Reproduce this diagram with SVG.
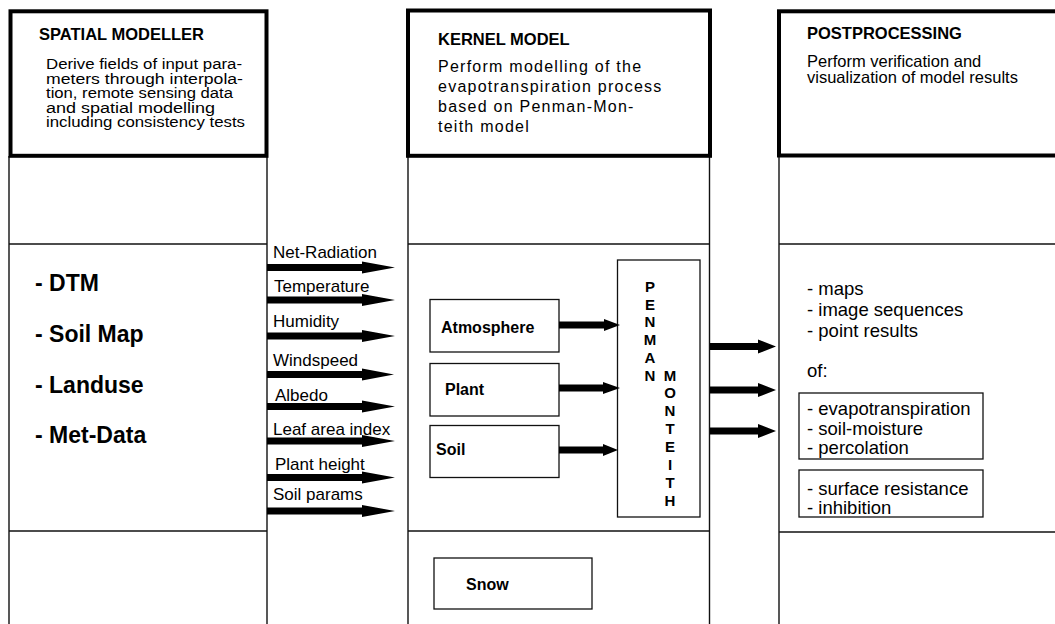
<svg xmlns="http://www.w3.org/2000/svg" width="1055" height="624" viewBox="0 0 1055 624">
<style>
text{font-family:"Liberation Sans",Arial,Helvetica,sans-serif;fill:#000}
.thick{fill:none;stroke:#000;stroke-width:4}
.thin{fill:none;stroke:#111;stroke-width:1.4}
.box{fill:#fff;stroke:#111;stroke-width:1.3}
.title{font-size:16.5px;font-weight:bold}
.desc{font-size:16.5px}
.ldesc{font-size:14px}
.kdesc{font-size:16px;letter-spacing:1.25px}
.lbl{font-size:17px}
.big{font-size:23px;font-weight:bold}
.bl{font-size:16px;font-weight:bold}
.pm{font-size:15px;font-weight:bold;text-anchor:middle}
.res{font-size:18.5px}
.arr{fill:#000;stroke:none}
</style>
<rect width="1055" height="624" fill="#fff"/>

<g id="spatial-modeller">
  <line class="thin" x1="9" y1="156" x2="9" y2="624"/>
  <line class="thin" x1="267" y1="156" x2="267" y2="624"/>
  <line class="thin" x1="9" y1="244" x2="267" y2="244"/>
  <line class="thin" x1="9" y1="531" x2="267" y2="531"/>
  <rect class="thick" x="10.5" y="11.3" width="256" height="144.5" fill="#fff"/>
  <text class="title" x="39" y="39.5">SPATIAL MODELLER</text>
  <text class="ldesc" x="46" y="69" textLength="196" lengthAdjust="spacingAndGlyphs">Derive fields of input para-</text>
  <text class="ldesc" x="46" y="83.5" textLength="197" lengthAdjust="spacingAndGlyphs">meters through interpola-</text>
  <text class="ldesc" x="46" y="98" textLength="187" lengthAdjust="spacingAndGlyphs">tion, remote sensing data</text>
  <text class="ldesc" x="46" y="112.5" textLength="169" lengthAdjust="spacingAndGlyphs">and spatial modelling</text>
  <text class="ldesc" x="46" y="127" textLength="199" lengthAdjust="spacingAndGlyphs">including consistency tests</text>
  <text class="big" x="35" y="291">- DTM</text>
  <text class="big" x="35" y="342">- Soil Map</text>
  <text class="big" x="35" y="393">- Landuse</text>
  <text class="big" x="35" y="443">- Met-Data</text>
</g>

<g id="input-labels">
  <text class="lbl" x="273" y="258">Net-Radiation</text>
  <text class="lbl" x="274" y="292">Temperature</text>
  <text class="lbl" x="273" y="327">Humidity</text>
  <text class="lbl" x="273" y="366">Windspeed</text>
  <text class="lbl" x="275" y="401">Albedo</text>
  <text class="lbl" x="273" y="435">Leaf area index</text>
  <text class="lbl" x="275" y="470">Plant height</text>
  <text class="lbl" x="273" y="500">Soil params</text>
</g>

<g id="kernel-model">
  <line class="thin" x1="408" y1="156" x2="408" y2="624"/>
  <line class="thin" x1="709.5" y1="156" x2="709.5" y2="624"/>
  <line class="thin" x1="408" y1="244" x2="710" y2="244"/>
  <line class="thin" x1="408" y1="531" x2="710" y2="531"/>
  <rect class="thick" x="408" y="10.5" width="302" height="145.3" fill="#fff"/>
  <text class="title" x="438" y="45">KERNEL MODEL</text>
  <text class="kdesc" x="438" y="72">Perform modelling of the</text>
  <text class="kdesc" x="438" y="92">evapotranspiration process</text>
  <text class="kdesc" x="438" y="112">based on Penman-Mon-</text>
  <text class="kdesc" x="438" y="132">teith model</text>
</g>

<g id="atmosphere">
  <rect class="box" x="430" y="299.5" width="129" height="52.5"/>
  <text class="bl" x="441" y="333">Atmosphere</text>
</g>
<g id="plant">
  <rect class="box" x="430" y="363.5" width="129" height="52.5"/>
  <text class="bl" x="445" y="395">Plant</text>
</g>
<g id="soil">
  <rect class="box" x="430" y="425.5" width="129" height="52"/>
  <text class="bl" x="436" y="455">Soil</text>
</g>

<g id="penman-monteith">
  <rect class="box" x="617.5" y="260" width="82.5" height="257"/>
  <text class="pm" x="650" y="292">P</text>
  <text class="pm" x="650" y="309.7">E</text>
  <text class="pm" x="650" y="327.4">N</text>
  <text class="pm" x="650" y="345.1">M</text>
  <text class="pm" x="650" y="362.8">A</text>
  <text class="pm" x="650" y="380.5">N</text>
  <text class="pm" x="670" y="380.5">M</text>
  <text class="pm" x="670" y="398.3">O</text>
  <text class="pm" x="670" y="416.1">N</text>
  <text class="pm" x="670" y="434">T</text>
  <text class="pm" x="670" y="452">E</text>
  <text class="pm" x="670" y="470">I</text>
  <text class="pm" x="670" y="488">T</text>
  <text class="pm" x="670" y="506">H</text>
</g>

<g id="snow">
  <rect class="box" x="434" y="558" width="158" height="51"/>
  <text class="bl" x="466" y="590">Snow</text>
</g>

<g id="postprocessing">
  <line class="thin" x1="779" y1="156" x2="779" y2="624"/>
  <line class="thin" x1="779" y1="244" x2="1055" y2="244"/>
  <line class="thin" x1="779" y1="532" x2="1055" y2="532"/>
  <rect class="thick" x="779" y="11.3" width="300" height="144.2" fill="#fff"/>
  <text class="title" x="807" y="38.5">POSTPROCESSING</text>
  <text class="desc" x="807" y="66.5">Perform verification and</text>
  <text class="desc" x="807" y="83.3">visualization of model results</text>
  <text class="res" x="807" y="295">- maps</text>
  <text class="res" x="807" y="316">- image sequences</text>
  <text class="res" x="807" y="337">- point results</text>
  <text class="res" x="807" y="377">of:</text>
</g>

<g id="results-water">
  <rect class="box" x="799" y="393" width="184" height="66" fill="none"/>
  <text class="res" x="807" y="415">- evapotranspiration</text>
  <text class="res" x="807" y="435">- soil-moisture</text>
  <text class="res" x="807" y="454">- percolation</text>
</g>

<g id="results-resistance">
  <rect class="box" x="799" y="470" width="184" height="47" fill="none"/>
  <text class="res" x="807" y="495">- surface resistance</text>
  <text class="res" x="807" y="514">- inhibition</text>
</g>

<g id="connectors">
  <polygon class="arr" points="267,264 362,264 362,261.5 395,267.5 362,273.5 362,271 267,271"/>
  <polygon class="arr" points="267,296.5 362,296.5 362,294 395,300 362,306 362,303.5 267,303.5"/>
  <polygon class="arr" points="267,332.5 362,332.5 362,330 395,336 362,342 362,339.5 267,339.5"/>
  <polygon class="arr" points="267,371 362,371 362,368.5 394,374.5 362,380.5 362,378 267,378"/>
  <polygon class="arr" points="267,403 362,403 362,400.5 395,406.5 362,412.5 362,410 267,410"/>
  <polygon class="arr" points="267,437.5 362,437.5 362,435 395,441 362,447 362,444.5 267,444.5"/>
  <polygon class="arr" points="267,474 362,474 362,471.5 395,477.5 362,483.5 362,481 267,481"/>
  <polygon class="arr" points="267,507.5 362,507.5 362,505 395,511 362,517 362,514.5 267,514.5"/>

  <polygon class="arr" points="559,321.5 604,321.5 604,319 620,325 604,331 604,328.5 559,328.5"/>
  <polygon class="arr" points="559,384.5 603,384.5 603,382 620,388 603,394 603,391.5 559,391.5"/>
  <polygon class="arr" points="559,446.5 603,446.5 603,444 618,450 603,456 603,453.5 559,453.5"/>

  <polygon class="arr" points="710,343 758,343 758,339.5 776,346.5 758,353.5 758,350 710,350"/>
  <polygon class="arr" points="710,386.5 758,386.5 758,383 776,390 758,397 758,393.5 710,393.5"/>
  <polygon class="arr" points="710,427.5 758,427.5 758,424 776,431 758,438 758,434.5 710,434.5"/>
</g>
</svg>
